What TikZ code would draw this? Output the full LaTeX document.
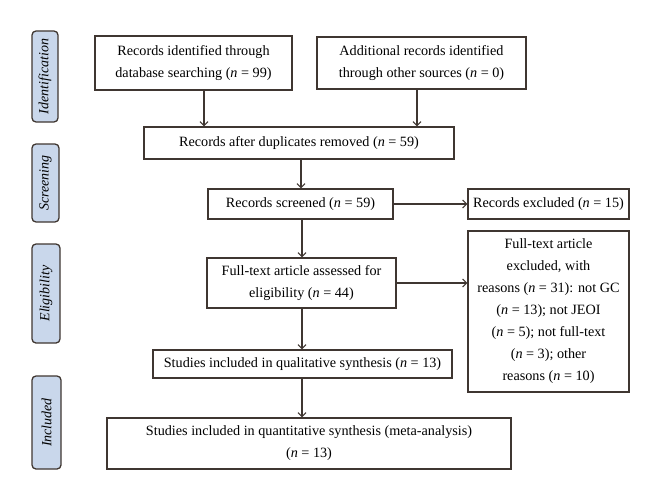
\documentclass[tikz,border=0pt]{standalone}
\usepackage{fontspec}
\setmainfont{Liberation Serif}
\usetikzlibrary{arrows.meta}
\definecolor{ln}{HTML}{3F3631}
\definecolor{sidefill}{HTML}{C9D7EB}
\begin{document}
\begin{tikzpicture}[x=1pt,y=-1pt,
  box/.style={draw=ln,line width=1.3pt,rectangle,inner sep=0pt,align=center,
    text=black,font=\fontsize{14.2}{22}\selectfont},
  side/.style={draw=ln,line width=1.3pt,rectangle,rounded corners=4pt,fill=sidefill,
    inner sep=0pt,rotate=90,font=\fontsize{14}{16}\selectfont\itshape,text=black},
  arr/.style={draw=ln,line width=1.3pt,-{Straight Barb[length=4pt,width=8pt,line width=1.1pt]}}]
\useasboundingbox (0,0) rectangle (660,500);
% side labels
\node[side,minimum width=91,minimum height=26] (sid) at (45,76.5) {Identification};
\node[side,minimum width=78,minimum height=27] (ssc) at (45.5,183) {Screening};
\node[side,minimum width=99,minimum height=28] (sel) at (46,293.5) {Eligibility};
\node[side,minimum width=93,minimum height=29] (sin) at (46.5,422.5) {Included};
% boxes
\node[box,minimum width=197,minimum height=54] (b1) at (193.5,63)
  {Records identified through\\database searching (\textit{n} = 99)};
\node[box,minimum width=209,minimum height=52] (b2) at (421.5,63)
  {Additional records identified\\through other sources (\textit{n} = 0)};
\node[box,minimum width=310,minimum height=32] (b3) at (299,143)
  {Records after duplicates removed (\textit{n} = 59)};
\node[box,minimum width=185,minimum height=30] (b4) at (300.5,204)
  {Records screened (\textit{n} = 59)};
\node[box,minimum width=161,minimum height=30] (b5) at (548.5,204)
  {Records excluded (\textit{n} = 15)};
\node[box,minimum width=189,minimum height=50] (b6) at (301.5,283)
  {Full-text article assessed for\\eligibility (\textit{n} = 44)};
\node[box,minimum width=161,minimum height=161] (b7) at (548.5,311.5)
  {Full-text article\\excluded, with\\reasons (\textit{n} = 31): not GC\\(\textit{n} = 13); not JEOI\\(\textit{n} = 5); not full-text\\(\textit{n} = 3); other\\reasons (\textit{n} = 10)};
\node[box,minimum width=299,minimum height=28] (b8) at (302.5,364)
  {Studies included in qualitative synthesis (\textit{n} = 13)};
\node[box,minimum width=404,minimum height=51] (b9) at (309,443.5)
  {Studies included in quantitative synthesis (meta-analysis)\\(\textit{n} = 13)};
% connectors
\draw[arr] ([xshift=10.5]b1.south) -- ([xshift=10.5]b1.south |- b3.north);
\draw[arr] ([xshift=-4.5]b2.south) -- ([xshift=-4.5]b2.south |- b3.north);
\draw[arr] ([xshift=2]b3.south) -- ([xshift=2]b3.south |- b4.north);
\draw[arr] (b4.east) -- (b5.west);
\draw[arr] ([xshift=1.5]b4.south) -- ([xshift=1.5]b4.south |- b6.north);
\draw[arr] ([xshift=0.5]b6.south) -- ([xshift=0.5]b6.south |- b8.north);
\draw[arr] (b6.east) -- (b6.east -| b7.west);
\draw[arr] ([xshift=-0.5]b8.south) -- ([xshift=-0.5]b8.south |- b9.north);
\end{tikzpicture}
\end{document}
